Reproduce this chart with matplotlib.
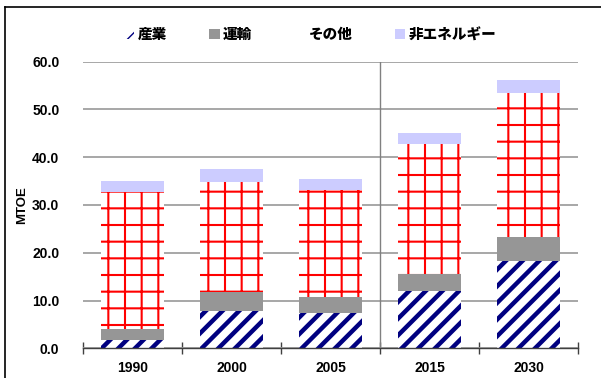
import matplotlib
matplotlib.use("Agg")
import matplotlib.pyplot as plt
from matplotlib.lines import Line2D
from matplotlib.patches import Patch
import numpy as np

plt.rcParams["font.family"] = ["Liberation Sans", "Noto Sans CJK JP", "DejaVu Sans"]
plt.rcParams["font.weight"] = "bold"

years = ["1990", "2000", "2005", "2015", "2030"]
series_names = ["産業", "運輸", "その他", "非エネルギー"]
industry = [1.7, 7.9, 7.3, 11.9, 18.3]
transport = [2.3, 3.8, 3.4, 3.7, 5.0]
other = [28.7, 23.2, 22.4, 27.1, 30.2]
non_energy = [2.3, 2.7, 2.3, 2.4, 2.7]

fig = plt.figure(figsize=(6.01, 3.78), dpi=100)
ax = fig.add_axes([0.138, 0.0786, 0.824, 0.7582])

x = np.arange(len(years))
width = 0.63
bottom = np.zeros(len(years))


def stack(values, hatch_lw=None, **kw):
    global bottom
    if hatch_lw is not None:
        with plt.rc_context({"hatch.linewidth": hatch_lw}):
            bars = ax.bar(x, values, width, bottom=bottom, zorder=2, **kw)
        for b in bars:
            if hasattr(b, "set_hatch_linewidth"):
                b.set_hatch_linewidth(hatch_lw)
    else:
        bars = ax.bar(x, values, width, bottom=bottom, zorder=2, **kw)
    bottom = bottom + np.array(values)
    return bars


b1 = stack(industry, hatch_lw=3.2, facecolor="white", edgecolor="#000080",
           linewidth=0, hatch="//")
b2 = stack(transport, facecolor="#969696", linewidth=0)
b3 = stack(other, hatch_lw=1.5, facecolor="white", edgecolor="#FF0000",
           linewidth=0, hatch="+")
b4 = stack(non_energy, facecolor="#CCCCFF", linewidth=0)

ax.set_xlim(-0.5, len(years) - 0.5)
ax.set_ylim(0, 60)
ax.set_yticks(np.arange(0, 61, 10))
ax.yaxis.set_major_formatter(matplotlib.ticker.FormatStrFormatter("%.1f"))
ax.tick_params(axis="y", length=0, labelsize=10, pad=17)
ax.yaxis.grid(True, color="#A0A0A0", linewidth=1.3, zorder=0)
ax.set_axisbelow(True)

ax.set_xticks(x)
ax.set_xticklabels(years)
ax.tick_params(axis="x", length=0, labelsize=10, pad=9)
ax.set_xticks(np.arange(-0.5, len(years), 1.0), minor=True)
ax.tick_params(axis="x", which="minor", direction="inout", length=8,
               color="#404040", width=1)
for lbl in ax.get_xticklabels() + ax.get_yticklabels():
    lbl.set_fontweight("bold")

for side in ["left", "right", "top"]:
    ax.spines[side].set_visible(False)
ax.spines["bottom"].set_color("#404040")
ax.spines["bottom"].set_linewidth(1)

# divider between historical and projected years
ax.axvline(2.5, ymin=0, ymax=1, color="#808080", linewidth=1, zorder=3)

ax.set_ylabel("MTOE", fontsize=9.5, fontweight="bold", labelpad=3)

handles = [b1[0], b2[0], Patch(facecolor="white", edgecolor="none"), b4[0]]
fig.legend(handles, series_names, loc="center", bbox_to_anchor=(0.516, 0.908),
           ncol=4, frameon=False, handlelength=0.7,
           handleheight=0.7, handletextpad=0.25, columnspacing=2.9,
           prop={"family": ["Noto Sans CJK JP", "DejaVu Sans"],
                 "weight": "heavy", "size": 10.5})

# outer frame
fig.add_artist(Line2D([5 / 601, 5 / 601], [0, 1 - 7 / 378],
                      transform=fig.transFigure, color="black", linewidth=1.2))
fig.add_artist(Line2D([5 / 601, 1], [1 - 7 / 378, 1 - 7 / 378],
                      transform=fig.transFigure, color="black", linewidth=1.2))

fig.savefig("out.png", dpi=100)
